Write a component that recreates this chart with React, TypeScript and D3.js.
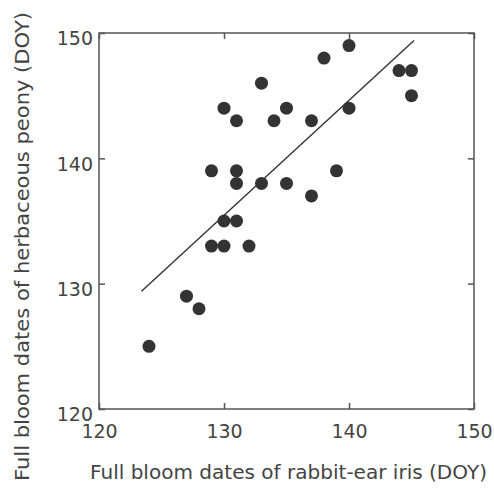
import React, { useRef, useEffect } from 'react';
import * as d3 from 'd3';

// full bloom day-of-year, one entry per year
const irisDoy = [124, 127, 128, 129, 130, 132, 130, 131, 129, 131, 131, 133, 130, 131, 133, 134, 135, 137, 135, 137, 138, 139, 140, 140, 144, 145, 145];
const peonyDoy = [125, 129, 128, 133, 133, 133, 135, 135, 139, 139, 138, 138, 144, 143, 146, 143, 144, 143, 138, 137, 148, 139, 149, 144, 147, 147, 145];

// fitted regression line, end points
const fitX = [123.4, 145.2];
const fitY = [129.4, 149.4];

const xTicks = [120, 130, 140, 150];
const yTicks = [120, 130, 140, 150];

const xLabel = 'Full bloom dates of rabbit-ear iris (DOY)';
const yLabel = 'Full bloom dates of herbaceous peony (DOY)';

const width = 494;
const height = 489;
const margin = { top: 33, right: 20, bottom: 80, left: 99 };
const font = '"DejaVu Sans", sans-serif';

const App = () => {
  const ref = useRef<SVGSVGElement>(null);

  useEffect(() => {
    const svg = d3.select(ref.current);
    svg.selectAll('*').remove();

    const x = d3.scaleLinear().domain([120, 150]).range([margin.left, width - margin.right]);
    const y = d3.scaleLinear().domain([120, 150]).range([height - margin.bottom, margin.top]);

    const axisColor = '#555';

    const styleAxis = (g: any) => {
      g.select('.domain').remove();
      g.selectAll('.tick line').attr('stroke', axisColor).attr('stroke-width', 1.5);
      g.selectAll('.tick text')
        .attr('fill', '#444')
        .attr('font-family', font)
        .attr('font-size', 19);
    };

    svg.append('g')
      .attr('transform', `translate(0,${y(120)})`)
      .call(d3.axisBottom(x).tickValues(xTicks).tickSizeInner(-6).tickSizeOuter(0).tickPadding(16).tickFormat(d3.format('d')))
      .call(styleAxis);

    svg.append('g')
      .attr('transform', `translate(0,${y(150)})`)
      .call(d3.axisTop(x).tickValues(xTicks).tickSizeInner(-6).tickSizeOuter(0).tickFormat(() => ''))
      .call(styleAxis);

    svg.append('g')
      .attr('transform', `translate(${x(120)},0)`)
      .call(d3.axisLeft(y).tickValues(yTicks).tickSizeInner(-6).tickSizeOuter(0).tickPadding(6).tickFormat(d3.format('d')))
      .call(styleAxis)
      .call((g: any) => g.selectAll('.tick text').attr('dy', '0.62em'));

    svg.append('g')
      .attr('transform', `translate(${x(150)},0)`)
      .call(d3.axisRight(y).tickValues(yTicks).tickSizeInner(-6).tickSizeOuter(0).tickFormat(() => ''))
      .call(styleAxis);

    // frame
    svg.append('rect')
      .attr('x', x(120))
      .attr('y', y(150))
      .attr('width', x(150) - x(120))
      .attr('height', y(120) - y(150))
      .attr('fill', 'none')
      .attr('stroke', axisColor)
      .attr('stroke-width', 1.5);

    const line = d3.line<number>()
      .x((d) => x(d))
      .y((_, i) => y(fitY[i]));

    svg.append('path')
      .attr('d', line(fitX))
      .attr('fill', 'none')
      .attr('stroke', '#333')
      .attr('stroke-width', 1.4);

    svg.append('g')
      .selectAll('circle')
      .data(irisDoy)
      .join('circle')
      .attr('cx', (d) => x(d))
      .attr('cy', (_, i) => y(peonyDoy[i]))
      .attr('r', 6.5)
      .attr('fill', '#333');

    svg.append('text')
      .attr('x', 288.5)
      .attr('y', 479)
      .attr('text-anchor', 'middle')
      .attr('font-family', font)
      .attr('font-size', 19)
      .attr('textLength', 397)
      .attr('lengthAdjust', 'spacingAndGlyphs')
      .attr('fill', '#444')
      .text(xLabel);

    svg.append('text')
      .attr('transform', `translate(29,246.5) rotate(-90)`)
      .attr('text-anchor', 'middle')
      .attr('font-family', font)
      .attr('font-size', 19)
      .attr('textLength', 469)
      .attr('lengthAdjust', 'spacingAndGlyphs')
      .attr('fill', '#444')
      .text(yLabel);
  }, []);

  return (
    <svg
      ref={ref}
      width={width}
      height={height}
      style={{ position: 'absolute', left: 0, top: 0, background: '#fff' }}
    />
  );
};

export default App;
